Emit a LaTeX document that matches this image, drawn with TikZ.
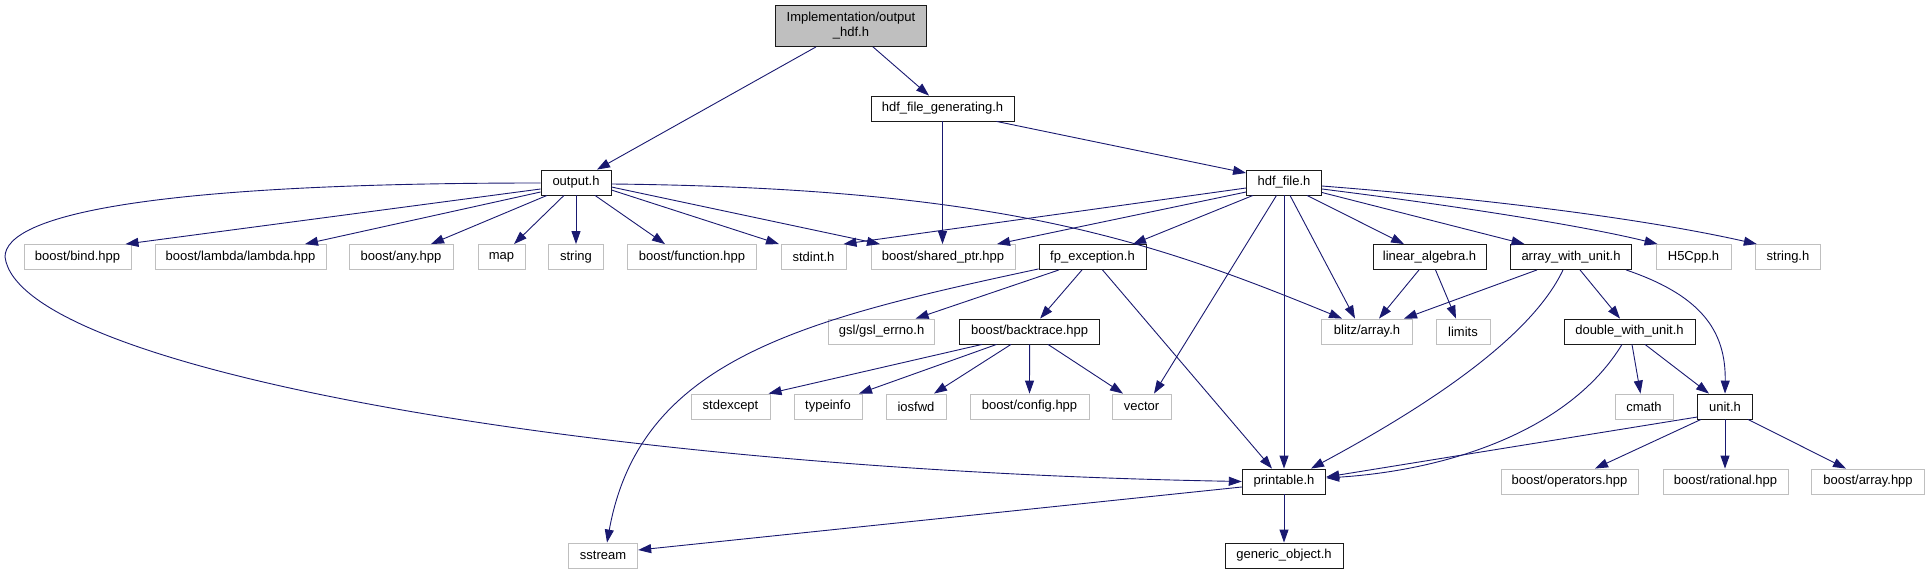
\documentclass[tikz,border=0pt]{standalone}
\usepackage{fontspec}
\setmainfont{Liberation Sans}
\usetikzlibrary{arrows.meta,calc}
\definecolor{edgec}{HTML}{191970}
\definecolor{greyb}{HTML}{BFBFBF}
\definecolor{boxb}{HTML}{1A1A1A}
\newcommand\nodefont{\fontsize{13}{15}\selectfont}
\begin{document}
\begin{tikzpicture}[x=1pt,y=-1pt,
  nb/.style={draw=boxb,line width=0.85pt,minimum height=25pt,inner sep=0pt,font=\nodefont,anchor=center},
  ne/.style={nb,draw=greyb},
  ed/.style={draw=edgec,line width=0.9pt,-{Triangle[length=13pt,width=9pt]}}]
\useasboundingbox (0,0) rectangle (1930,575);
% row 0-2
\node[nb,fill=greyb,minimum width=151pt,minimum height=41pt,align=center] (top) at (851,26) {Implementation/output\\\_hdf.h};
\node[nb,minimum width=143pt] (hfg) at (942.5,108.5) {hdf\_file\_generating.h};
\node[nb,minimum width=70pt] (output) at (576,182.5) {output.h};
\node[nb,minimum width=75pt] (hdf) at (1284,182.5) {hdf\_file.h};
% row 3
\node[ne,minimum width=107pt] (bind) at (77.5,257) {boost/bind.hpp};
\node[ne,minimum width=171pt] (lambda) at (240.5,257) {boost/lambda/lambda.hpp};
\node[ne,minimum width=104pt] (any) at (401,257) {boost/any.hpp};
\node[ne,minimum width=47pt] (map) at (501.5,257) {map};
\node[ne,minimum width=54.5pt] (string) at (576,257) {string};
\node[ne,minimum width=129.5pt] (function) at (692,257) {boost/function.hpp};
\node[ne,minimum width=65pt] (stdint) at (813.5,257) {stdint.h};
\node[ne,minimum width=144pt] (sharedptr) at (943,257) {boost/shared\_ptr.hpp};
\node[nb,minimum width=107pt] (fpexc) at (1092.5,257) {fp\_exception.h};
\node[nb,minimum width=113pt] (linalg) at (1429.5,257) {linear\_algebra.h};
\node[nb,minimum width=121.5pt] (awu) at (1571,257) {array\_with\_unit.h};
\node[ne,minimum width=75pt] (h5cpp) at (1693.5,257) {H5Cpp.h};
\node[ne,minimum width=65.5pt] (stringh) at (1788,257) {string.h};
% row 4
\node[ne,minimum width=106pt] (gsl) at (881.6,331.5) {gsl/gsl\_errno.h};
\node[nb,minimum width=140pt] (backtrace) at (1029.6,331.5) {boost/backtrace.hpp};
\node[ne,minimum width=90.5pt] (blitz) at (1367,331.5) {blitz/array.h};
\node[ne,minimum width=54pt] (limits) at (1463,331.5) {limits};
\node[nb,minimum width=131pt] (dwu) at (1629.5,331.5) {double\_with\_unit.h};
% row 5
\node[ne,minimum width=79pt] (stdexcept) at (730.5,406.5) {stdexcept};
\node[ne,minimum width=68pt] (typeinfo) at (828,406.5) {typeinfo};
\node[ne,minimum width=60pt] (iosfwd) at (916,406.5) {iosfwd};
\node[ne,minimum width=119pt] (config) at (1029.5,406.5) {boost/config.hpp};
\node[ne,minimum width=59pt] (vector) at (1141.5,406.5) {vector};
\node[ne,minimum width=58pt] (cmath) at (1644,406.5) {cmath};
\node[nb,minimum width=54.5pt] (unit) at (1725,406.5) {unit.h};
% row 6
\node[nb,minimum width=83.6pt] (printable) at (1284,481.5) {printable.h};
\node[ne,minimum width=137pt] (operators) at (1569.5,481.5) {boost/operators.hpp};
\node[ne,minimum width=125pt] (rational) at (1725.5,481.5) {boost/rational.hpp};
\node[ne,minimum width=112.6pt] (barray) at (1868,481.5) {boost/array.hpp};
% row 7
\node[ne,minimum width=69.5pt] (sstream) at (603,555.5) {sstream};
\node[nb,minimum width=118pt] (generic) at (1284,555.5) {generic\_object.h};

% edges from top
\draw[ed] ($(top.south)+(-35,0)$) -- ($(output.north)+(21,0)$);
\draw[ed] ($(top.south)+(22,0)$) -- ($(hfg.north)+(-13.5,0)$);
% hdf_file_generating
\draw[ed] (hfg.south) -- (hfg.south |- sharedptr.north);
\draw[ed] ($(hfg.south)+(54,0)$) -- ($(hdf.west)+(0,-9.5)$);
% output.h
\draw[ed] ($(output.west)+(0,6.5)$) -- ($(bind.north)+(48,0)$);
\draw[ed] ($(output.west)+(0,9.5)$) -- ($(lambda.north)+(64.5,0)$);
\draw[ed] ($(output.south)+(-29,0)$) -- ($(any.north)+(30,0)$);
\draw[ed] ($(output.south)+(-12,0)$) -- ($(map.north)+(12.5,0)$);
\draw[ed] (output.south) -- (string.north);
\draw[ed] ($(output.south)+(19,0)$) -- ($(function.north)+(-27,0)$);
\draw[ed] ($(output.east)+(0,7.5)$) -- ($(stdint.north)+(-34.5,0)$);
\draw[ed] ($(output.east)+(0,4.5)$) -- ($(sharedptr.north)+(-63,0)$);
\draw[ed] ($(output.east)+(0,1.5)$) .. controls (1000,188) and (1150,240) .. ($(blitz.north)+(-25,0)$);
\draw[ed] ($(output.west)+(0,0.5)$) .. controls (150,183) and (5,215) .. (5,257)
  .. controls (20,370) and (600,470) .. (printable.west);
% hdf_file.h
\draw[ed] ($(hdf.west)+(0,5.5)$) -- ($(stdint.north)+(30,0)$);
\draw[ed] ($(hdf.west)+(0,9.5)$) -- ($(sharedptr.north)+(54,0)$);
\draw[ed] ($(hdf.south)+(-31,0)$) -- ($(fpexc.north)+(40.5,0)$);
\draw[ed] ($(hdf.south)+(-7.5,0)$) -- ($(vector.north)+(12.5,0)$);
\draw[ed] (hdf.south) -- (printable.north);
\draw[ed] ($(hdf.south)+(6,0)$) -- ($(blitz.north)+(-12,0)$);
\draw[ed] ($(hdf.south)+(23,0)$) -- ($(linalg.north)+(-25.5,0)$);
\draw[ed] ($(hdf.east)+(0,10)$) -- ($(awu.north)+(-46.5,0)$);
\draw[ed] ($(hdf.east)+(0,6.5)$) .. controls (1450,205) and (1580,225) .. ($(h5cpp.north west)+(2,0)$);
\draw[ed] ($(hdf.east)+(0,3.5)$) .. controls (1500,200) and (1650,220) .. ($(stringh.north west)+(2,0)$);
% fp_exception.h
\draw[ed] ($(fpexc.south west)+(0,-1)$) .. controls (800,320) and (640,360) .. ($(sstream.north)+(4,0)$);
\draw[ed] ($(fpexc.south)+(-33.5,0)$) -- ($(gsl.north)+(34,0)$);
\draw[ed] ($(fpexc.south)+(-10.5,0)$) -- ($(backtrace.north)+(10.5,0)$);
\draw[ed] ($(fpexc.south)+(10,0)$) -- ($(printable.north)+(-12,0)$);
% boost/backtrace.hpp
\draw[ed] ($(backtrace.south)+(-47.6,0)$) -- ($(stdexcept.north)+(38,0)$);
\draw[ed] ($(backtrace.south)+(-33,0)$) -- ($(typeinfo.north)+(31,0)$);
\draw[ed] ($(backtrace.south)+(-18.6,0)$) -- ($(iosfwd.north)+(18,0)$);
\draw[ed] (backtrace.south) -- (config.north);
\draw[ed] ($(backtrace.south)+(18.4,0)$) -- ($(vector.north)+(-18.5,0)$);
% linear_algebra.h
\draw[ed] ($(linalg.south)+(-10.5,0)$) -- ($(blitz.north)+(12,0)$);
\draw[ed] ($(linalg.south)+(6,0)$) -- ($(limits.north)+(-7,0)$);
% array_with_unit.h
\draw[ed] ($(awu.south)+(-34,0)$) -- ($(blitz.north)+(37,0)$);
\draw[ed] ($(awu.south)+(-8,0)$) .. controls (1530,340) and (1420,410) .. ($(printable.north)+(27,0)$);
\draw[ed] ($(awu.south)+(9,0)$) -- ($(dwu.north)+(-9.5,0)$);
\draw[ed] ($(awu.south)+(55,0)$) .. controls (1700,295) and (1726,330) .. (unit.north);
% double_with_unit.h
\draw[ed] ($(dwu.south)+(-7.5,0)$) .. controls (1570,430) and (1450,470) .. ($(printable.east)+(0,-3.5)$);
\draw[ed] ($(dwu.south)+(2.5,0)$) -- ($(cmath.north)+(-3.5,0)$);
\draw[ed] ($(dwu.south)+(15.5,0)$) -- ($(unit.north)+(-16,0)$);
% unit.h
\draw[ed] ($(unit.west)+(0,10.5)$) -- ($(printable.east)+(0,-4.5)$);
\draw[ed] ($(unit.south)+(-24,0)$) -- ($(operators.north)+(25.5,0)$);
\draw[ed] (unit.south) -- (unit.south |- rational.north);
\draw[ed] ($(unit.south)+(23,0)$) -- ($(barray.north)+(-22,0)$);
% printable.h
\draw[ed] (printable.south) -- (generic.north);
\draw[ed] ($(printable.west)+(0,5.5)$) -- ($(sstream.east)+(0,-5.5)$);
\end{tikzpicture}
\end{document}
